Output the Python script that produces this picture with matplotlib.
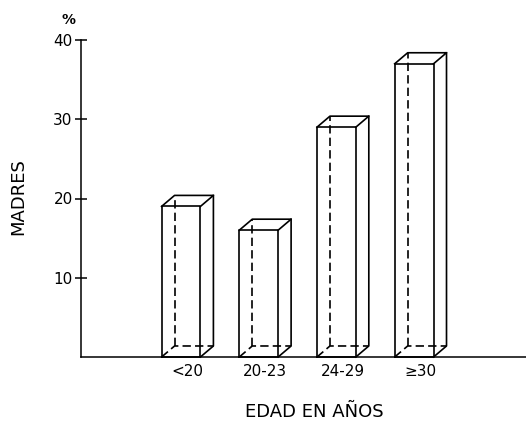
import matplotlib
matplotlib.use('Agg')
import matplotlib.pyplot as plt

# datos
categorias = ['<20', '20-23', '24-29', '≥30']
valores = [19, 16, 29, 37]
yticks = [10, 20, 30, 40]

W, H = 526, 424
fig = plt.figure(figsize=(W / 100, H / 100), dpi=100)
ax = fig.add_axes([81 / W, (H - 357) / H, 1 - 81 / W, (357 - 40) / H])
ax.set_xlim(-1.287, 4.44)
ax.set_ylim(0, 40)

# profundidad de las cajas (en unidades de datos)
dx = 0.167
dy = 1.39
hw = 0.25
lw = 1.2
dash = (0, (5, 2.5))

for i, v in enumerate(valores):
    x0, x1 = i - hw, i + hw
    # cara frontal
    ax.plot([x0, x1, x1, x0, x0], [0, 0, v, v, 0], color='black', lw=lw, clip_on=False)
    # cara superior
    ax.plot([x0, x0 + dx, x1 + dx, x1], [v, v + dy, v + dy, v], color='black', lw=lw, clip_on=False)
    # cara lateral
    ax.plot([x1 + dx, x1 + dx, x1], [v + dy, dy, 0], color='black', lw=lw, clip_on=False)
    # aristas ocultas
    ax.plot([x0, x0 + dx, x1 + dx], [0, dy, dy], color='black', lw=lw, ls=dash, clip_on=False)
    ax.plot([x0 + dx, x0 + dx], [dy, v + dy], color='black', lw=lw, ls=dash, clip_on=False)

ax.spines['top'].set_visible(False)
ax.spines['right'].set_visible(False)
ax.spines['left'].set_linewidth(1.1)
ax.spines['bottom'].set_linewidth(1.1)

ax.set_yticks(yticks)
ax.tick_params(axis='y', direction='inout', length=8, width=1.1, labelsize=11, pad=2)
ax.set_xticks([i + dx / 2 for i in range(len(categorias))])
ax.set_xticklabels(categorias)
ax.tick_params(axis='x', length=0, pad=5, labelsize=11)

fig.text(68 / W, 1 - 20 / H, '%', fontsize=10, fontweight='bold', ha='center', va='center')
fig.text(18 / W, 1 - 197 / H, 'MADRES', rotation=90, fontsize=13, ha='center', va='center')
fig.text(314 / W, 1 - 412 / H, 'EDAD EN AÑOS', fontsize=13, ha='center', va='center')

fig.savefig('out.png', dpi=100)
